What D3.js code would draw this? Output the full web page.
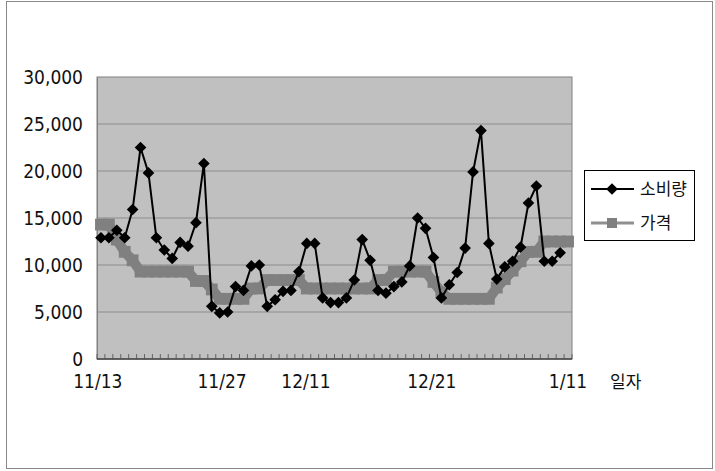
<!DOCTYPE html>
<html>
<head>
<meta charset="utf-8">
<title>소비량 / 가격</title>
<style>
  body { margin: 0; background: #fff; }
  svg { display: block; }
  .num { font-family: "Liberation Sans Narrow", "DejaVu Sans Condensed", "Arial Narrow", sans-serif; font-size: 19px; fill: #111; }
  .kor { font-family: "Noto Sans CJK KR", sans-serif; font-size: 17px; fill: #111; }
</style>
</head>
<body>
<svg id="chart" width="715" height="471"></svg>
<script src="https://cdnjs.cloudflare.com/ajax/libs/d3/7.8.5/d3.min.js"></script>
<script>
// one value per day (60 days)
const consumption = [12900, 12900, 13700, 12900, 15900, 22500, 19800, 12900, 11600, 10700,
  12400, 12000, 14500, 20800, 5600, 4900, 5000, 7700, 7300, 9900,
  10000, 5600, 6300, 7200, 7300, 9300, 12300, 12300, 6500, 6000,
  6000, 6500, 8400, 12700, 10500, 7300, 7000, 7700, 8200, 9900,
  15000, 13900, 10800, 6500, 7900, 9200, 11800, 19900, 24300, 12300,
  8500, 9800, 10400, 11900, 16600, 18400, 10400, 10400, 11300, null]

const price = [14300, 14300, 12700, 11400, 10500, 9300, 9300, 9300, 9300, 9300,
  9300, 9300, 8300, 8300, 7400, 6400, 6400, 6400, 6400, 7500,
  7500, 8400, 8400, 8400, 8400, 8400, 7500, 7500, 7500, 7500,
  7500, 7500, 7500, 7500, 7500, 8400, 8400, 9300, 9300, 9300,
  9300, 9300, 8200, 7100, 6400, 6400, 6400, 6400, 6400, 6400,
  7600, 8500, 9400, 10400, 11400, 11400, 12500, 12500, 12500, 12500]

const yTicks = [0, 5000, 10000, 15000, 20000, 25000, 30000]
// x labels and the day (category index) each one sits under
const xLabels = ["11/13", "11/27", "12/11", "12/21", "1/11"]
const xLabelDays = [-0.4, 15.3, 25.9, 41.8, 59]

const seriesNames = ["소비량", "가격"]

const svg = d3.select("#chart")
const plotL = 97, plotR = 572, plotT = 77, plotB = 359

svg.append("rect")
  .attr("x", 6.5).attr("y", 1.5).attr("width", 706).attr("height", 467)
  .attr("fill", "none").attr("stroke", "#888")

const days = d3.range(price.length)
const x = d3.scaleLinear().domain([-0.5, days.length - 0.5]).range([plotL, plotR])
const y = d3.scaleLinear().domain([0, 30000]).range([plotB, plotT])

svg.append("rect")
  .attr("x", plotL).attr("y", plotT).attr("width", plotR - plotL).attr("height", plotB - plotT)
  .attr("fill", "#c0c0c0").attr("stroke", "#808080")

// gridlines
svg.append("g").selectAll("line").data(yTicks.slice(1, -1)).join("line")
  .attr("x1", plotL).attr("x2", plotR)
  .attr("y1", d => y(d)).attr("y2", d => y(d))
  .attr("stroke", "#8c8c8c").attr("stroke-width", 1)

// y axis
const yAxis = d3.axisLeft(y).tickValues(yTicks).tickFormat(d3.format(",")).tickSize(0).tickPadding(14)
const gy = svg.append("g").attr("transform", `translate(${plotL},0)`).call(yAxis)
gy.select(".domain").attr("stroke", "#808080")
gy.selectAll("text").attr("class", "num")
gy.attr("font-size", null).attr("font-family", null)

// x axis: inner tick between every day
const gx = svg.append("g").attr("transform", `translate(0,${plotB})`)
gx.selectAll("line.tk").data(d3.range(days.length + 1)).join("line")
  .attr("class", "tk")
  .attr("x1", d => x(d - 0.5)).attr("x2", d => x(d - 0.5))
  .attr("y1", 0).attr("y2", -5)
  .attr("stroke", "#666")
gx.append("line").attr("x1", plotL).attr("x2", plotR).attr("stroke", "#444").attr("stroke-width", 1.5)
gx.selectAll("text").data(xLabels).join("text")
  .attr("class", "num")
  .attr("x", (d, i) => x(xLabelDays[i]))
  .attr("y", 29)
  .attr("text-anchor", "middle")
  .text(d => d)
svg.append("text").attr("class", "kor").attr("x", 610).attr("y", 388).text("일자")

// price series
const priceLine = d3.line().x((d, i) => x(i)).y(d => y(d))
svg.append("path").datum(price)
  .attr("d", priceLine)
  .attr("fill", "none").attr("stroke", "#808080").attr("stroke-width", 10)
svg.append("g").selectAll("path").data(price).join("path")
  .attr("transform", (d, i) => `translate(${x(i)},${y(d)})`)
  .attr("d", d3.symbol(d3.symbolSquare, 140))
  .attr("fill", "#808080")

// consumption series
const consLine = d3.line().defined(d => d != null).x((d, i) => x(i)).y(d => y(d))
svg.append("path").datum(consumption)
  .attr("d", consLine)
  .attr("fill", "none").attr("stroke", "#000").attr("stroke-width", 2)
svg.append("g").selectAll("path").data(consumption.map((v, i) => [i, v]).filter(d => d[1] != null)).join("path")
  .attr("transform", d => `translate(${x(d[0])},${y(d[1])}) rotate(45)`)
  .attr("d", d3.symbol(d3.symbolSquare, 68))
  .attr("fill", "#000")

// legend
const lg = svg.append("g")
lg.append("rect").attr("x", 584.5).attr("y", 170.5).attr("width", 110).attr("height", 70)
  .attr("fill", "#fff").attr("stroke", "#000")
const rows = [{ color: "#000", w: 2, sym: "d" }, { color: "#909090", w: 3, sym: "s" }]
rows.forEach((r, i) => {
  const cy = 189 + i * 34
  lg.append("line").attr("x1", 591).attr("x2", 634).attr("y1", cy).attr("y2", cy)
    .attr("stroke", r.color).attr("stroke-width", r.w)
  lg.append("path")
    .attr("transform", r.sym === "d" ? `translate(612,${cy}) rotate(45)` : `translate(612,${cy})`)
    .attr("d", d3.symbol(d3.symbolSquare, r.sym === "d" ? 68 : 100))
    .attr("fill", r.sym === "d" ? "#000" : "#808080")
  lg.append("text").attr("class", "kor").attr("x", 640).attr("y", cy + 6).text(seriesNames[i])
})
</script>
</body>
</html>
